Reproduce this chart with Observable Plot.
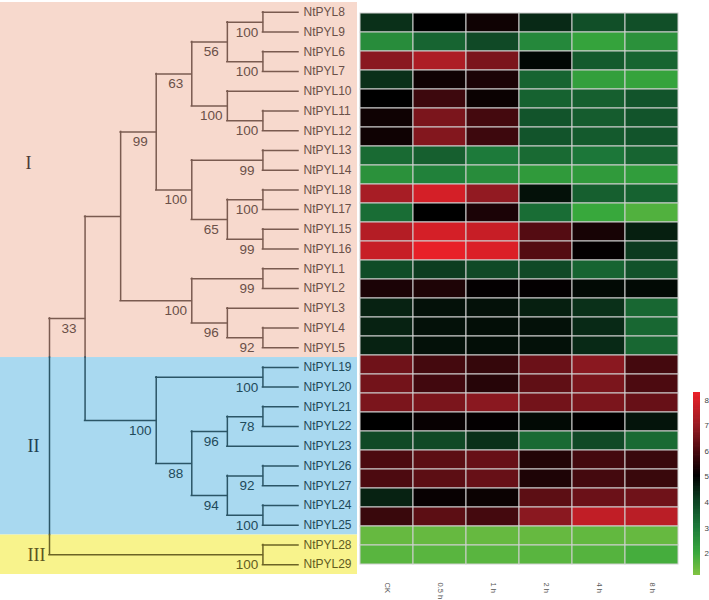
<!DOCTYPE html>
<html><head><meta charset="utf-8">
<script src="https://cdn.jsdelivr.net/npm/d3@7"></script>
<script src="https://cdn.jsdelivr.net/npm/@observablehq/plot@0.6"></script>
<style>
body{margin:0;background:#fff}
#wrap{position:relative;width:709px;height:600px;overflow:hidden}
#wrap>div{position:absolute;top:0}
</style>
</head><body>
<div id="wrap"><div id="tree" style="left:0"></div><div id="heat" style="left:357px"></div><div id="leg" style="left:687px"></div></div>
<script>
// ---- data ----
const newick = "(((((((NtPYL8,NtPYL9)100,(NtPYL6,NtPYL7)100)56,(NtPYL10,(NtPYL11,NtPYL12)100)100)63,((NtPYL13,NtPYL14)99,((NtPYL18,NtPYL17)100,(NtPYL15,NtPYL16)99)65)100)99,((NtPYL1,NtPYL2)99,(NtPYL3,(NtPYL4,NtPYL5)92)96)100),((NtPYL19,NtPYL20)100,(((NtPYL21,NtPYL22)78,NtPYL23)96,((NtPYL26,NtPYL27)92,(NtPYL24,NtPYL25)100)94)88)100)33,(NtPYL28,NtPYL29)100);";
const genes = ["NtPYL8","NtPYL9","NtPYL6","NtPYL7","NtPYL10","NtPYL11","NtPYL12","NtPYL13","NtPYL14","NtPYL18","NtPYL17","NtPYL15","NtPYL16","NtPYL1","NtPYL2","NtPYL3","NtPYL4","NtPYL5","NtPYL19","NtPYL20","NtPYL21","NtPYL22","NtPYL23","NtPYL26","NtPYL27","NtPYL24","NtPYL25","NtPYL28","NtPYL29"];
const columns = ["CK","0.5 h","1 h","2 h","4 h","8 h"];
const expression = [
  [4.3, 5.0, 5.2, 4.4, 3.8, 3.8],
  [2.6, 3.4, 3.9, 2.7, 2.1, 2.5],
  [6.8, 7.3, 6.6, 4.9, 3.6, 3.4],
  [4.3, 5.2, 5.35, 3.4, 2.2, 2.1],
  [5.0, 5.8, 5.15, 3.45, 3.5, 3.7],
  [5.2, 6.6, 5.9, 3.7, 3.55, 3.7],
  [5.2, 6.7, 5.8, 3.7, 3.6, 3.7],
  [3.3, 3.5, 3.0, 3.3, 3.05, 3.4],
  [2.5, 2.85, 2.6, 2.3, 2.3, 2.25],
  [7.2, 7.9, 6.9, 4.75, 3.5, 3.45],
  [3.25, 5.0, 5.35, 3.25, 2.0, 1.7],
  [7.4, 7.9, 7.7, 6.1, 5.3, 4.55],
  [7.7, 8.2, 8.0, 6.1, 5.05, 4.15],
  [3.85, 4.1, 3.9, 3.9, 3.4, 3.75],
  [5.35, 5.4, 5.05, 5.05, 4.85, 4.85],
  [4.5, 4.75, 4.75, 4.55, 4.3, 3.35],
  [4.5, 4.75, 4.8, 4.75, 4.4, 3.35],
  [4.5, 4.75, 4.8, 4.75, 4.4, 3.35],
  [6.45, 5.9, 5.7, 6.4, 6.8, 5.9],
  [6.5, 5.85, 5.5, 6.25, 6.6, 6.0],
  [6.6, 6.6, 6.8, 6.5, 6.6, 6.35],
  [5.0, 5.1, 5.05, 4.85, 5.0, 4.7],
  [3.9, 3.9, 4.3, 3.3, 3.9, 3.3],
  [6.0, 6.2, 6.35, 5.45, 5.9, 5.75],
  [6.0, 6.2, 6.35, 5.4, 5.9, 5.75],
  [4.5, 5.1, 5.15, 6.2, 6.4, 6.45],
  [5.75, 6.2, 5.9, 6.8, 7.6, 7.5],
  [1.45, 1.45, 1.45, 1.45, 1.5, 1.45],
  [1.6, 1.6, 1.6, 1.6, 1.65, 1.85]
];
const groupNames = ["I","II","III"];
const groupSizes = [18, 9, 2];
const groupFills = ["#f7d9cd","#a9d9f0","#f8f38c"];
const groupInk = ["#7a5b50","#2b5566","#6b6325"];
const groupText = ["#6a5048","#1f4a5a","#625c1f"];
const groupLabelInk = ["#4a3a36","#1e4050","#5a5420"];
const colorDomain = [1.14, 2, 3, 4, 5, 6, 7, 8.3];
const colorRange = ["#80c342","#38a83c","#1d7a3a","#0e4424","#000000","#4c0a10","#9a1c24","#ee2028"];
const legendTicks = [2,3,4,5,6,7,8];

// ---- tree layout ----
function parse(s){
  let i=0;
  function node(){
    const n={children:[]};
    if(s[i]==='('){
      i++; n.children.push(node());
      while(s[i]===','){i++; n.children.push(node());}
      i++;
    }
    let name=''; while(i<s.length && !",();".includes(s[i])) name+=s[i++];
    if(n.children.length) n.support=name; else n.name=name;
    return n;
  }
  return node();
}
const root = parse(newick);
let li=0;
(function layout(n){
  if(!n.children.length){n.h=0;n.y=li++ +0.5;return;}
  n.children.forEach(layout);
  n.h=1+d3.max(n.children,c=>c.h);
  n.y=(n.children[0].y+n.children[n.children.length-1].y)/2;
})(root);
const bounds=[0]; groupSizes.forEach(s=>bounds.push(bounds[bounds.length-1]+s));
const groupOf = y => { for(let k=0;k<groupSizes.length;k++) if(y>=bounds[k]&&y<bounds[k+1]) return k; return groupSizes.length-1; };
const groups = groupNames.map((name,k)=>({name,from:bounds[k],to:bounds[k+1],k}));
const vsegs=[],hsegs=[],supports=[],leaves=[];
(function walk(n){
  if(!n.children.length){leaves.push({...n,g:groupOf(n.y)});return;}
  const y1=n.children[0].y,y2=n.children[n.children.length-1].y;
  for(let k=0;k<groupSizes.length;k++){
    const a=Math.max(y1,bounds[k]),b=Math.min(y2,bounds[k+1]);
    if(b>a) vsegs.push({x:n.h,y1:a,y2:b,g:k});
  }
  n.children.forEach(c=>{hsegs.push({x1:n.h,x2:c.h,y:c.y,g:groupOf(c.y)});walk(c);});
  if(n.support) supports.push({x:n.h,y:n.y,text:n.support,g:groupOf(n.y)});
})(root);

const font = "'Liberation Sans', Arial, sans-serif";
const treePlot = Plot.plot({
  width:357, height:600, margin:0,
  x:{domain:[root.h,0], range:[49,298], axis:null},
  y:{domain:[0,genes.length], range:[2,574], axis:null},
  color:{type:"identity"},
  style:{background:"transparent", fontFamily:font},
  marks:[
    Plot.rect(groups,{y1:"from",y2:"to",fill:d=>groupFills[d.k]}),
    Plot.ruleX(vsegs,{x:"x",y1:"y1",y2:"y2",stroke:d=>groupInk[d.g],strokeWidth:1.5,strokeLinecap:"square"}),
    Plot.ruleY(hsegs,{x1:"x1",x2:"x2",y:"y",stroke:d=>groupInk[d.g],strokeWidth:1.5,strokeLinecap:"square"}),
    Plot.text(leaves,{x:"h",y:"y",text:"name",textAnchor:"start",dx:5,fill:d=>groupText[d.g],fontSize:12}),
    Plot.text(supports,{x:"x",y:"y",text:"text",dx:-16,dy:10,fill:d=>groupText[d.g],fontSize:13.5}),
    Plot.text(groups.slice(0,1),{y:d=>(d.from+d.to)/2,text:"name",frameAnchor:"left",dx:25,dy:-17,fill:d=>groupLabelInk[d.k],fontSize:18,fontFamily:"'Liberation Serif', 'Times New Roman', serif"}),
    Plot.text(groups.slice(1),{y:d=>(d.from+d.to)/2,text:"name",frameAnchor:"left",dx:27,fill:d=>groupLabelInk[d.k],fontSize:18,fontFamily:"'Liberation Serif', 'Times New Roman', serif"})
  ]
});
document.getElementById("tree").appendChild(treePlot);

const colorOpts = {type:"linear", domain:colorDomain, range:colorRange, interpolate:"rgb", clamp:true};
const cells = genes.flatMap((g,i)=>columns.map((c,j)=>({gene:g,col:c,v:expression[i][j]})));
const heatPlot = Plot.plot({
  width:330, height:600, marginLeft:0, marginRight:7, marginTop:2, marginBottom:26,
  x:{domain:columns, range:[0,323], padding:0, axis:null, label:null},
  y:{domain:genes, range:[2,574], padding:0, axis:null},
  color:colorOpts,
  style:{background:"transparent", fontFamily:font},
  marks:[
    Plot.cell(cells,{x:"col",y:"gene",fill:"v",stroke:"#d0d0d0",strokeWidth:1,inset:0}),
    Plot.axisX({anchor:"bottom",tickSize:0,tickRotate:90,tickPadding:8,fontSize:7.5,fill:"#555",label:null})
  ]
});
document.getElementById("heat").appendChild(heatPlot);

const step=0.05;
const legendValues=d3.range(colorDomain[0],colorDomain[colorDomain.length-1],step);
const legPlot = Plot.plot({
  width:22, height:600, marginLeft:6, marginRight:9, marginTop:0, marginBottom:0,
  y:{domain:[colorDomain[0],colorDomain[colorDomain.length-1]], range:[575,392], axis:null},
  color:colorOpts,
  style:{background:"transparent", fontFamily:font},
  marks:[
    Plot.rect(legendValues,{y1:d=>d,y2:d=>Math.min(d+step*1.6,colorDomain[colorDomain.length-1]),fill:d=>d}),
    Plot.axisY(legendTicks,{anchor:"right",tickSize:0,tickPadding:4,fontSize:8,fill:"#444"})
  ]
});
document.getElementById("leg").appendChild(legPlot);
</script>
</body></html>
